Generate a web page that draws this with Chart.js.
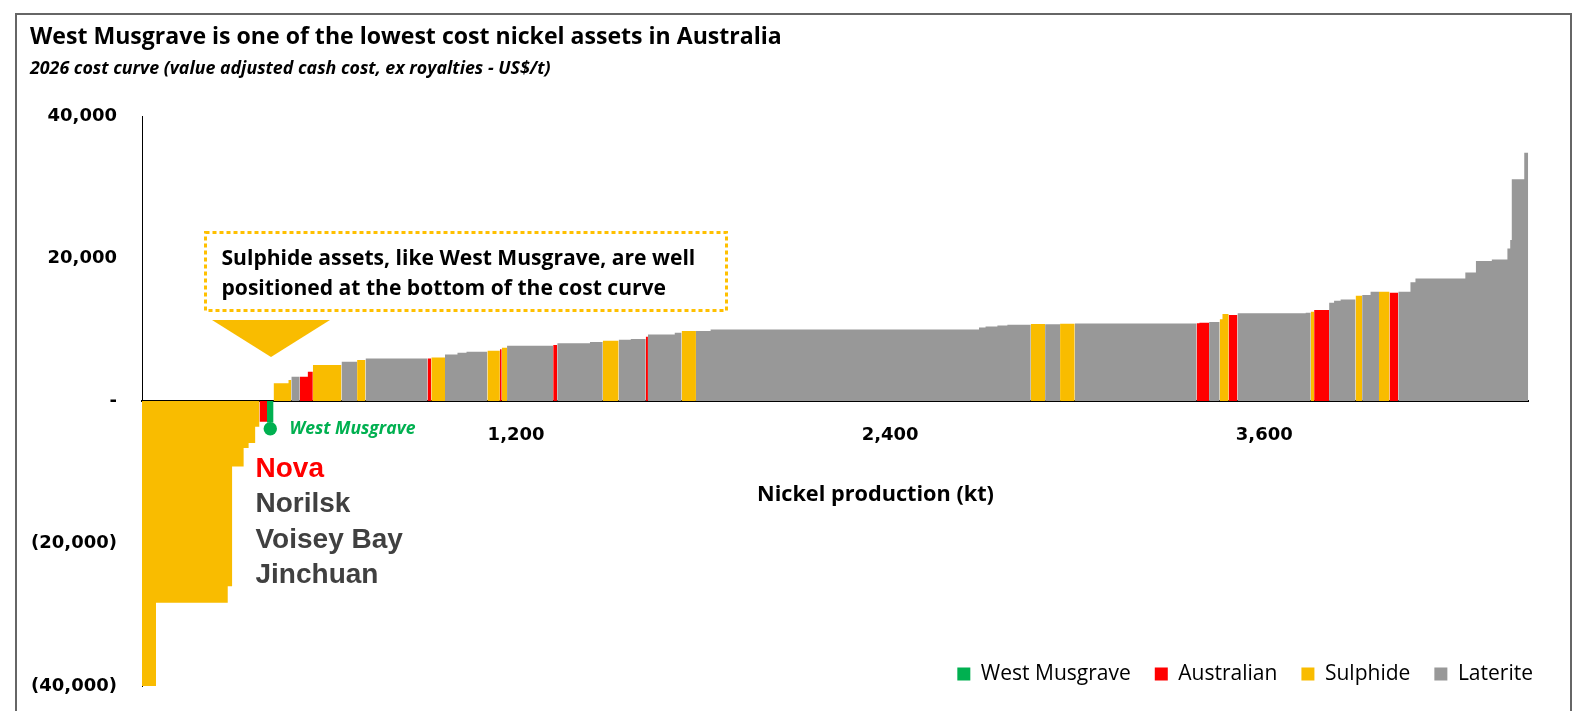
<!DOCTYPE html>
<html>
<head>
<meta charset="utf-8">
<script src="https://cdn.jsdelivr.net/npm/chart.js@4.4.0/dist/chart.umd.min.js"></script>
<style>
  html, body { margin: 0; padding: 0; background: #fff; }
  #wrap { width: 1583px; height: 711px; }
</style>
</head>
<body>
<div id="wrap"><canvas id="curve"></canvas></div>
<script>
// assets in cost order: production (kt), cash cost (US$/t), type
var production = [45, 230, 14, 37, 16, 21, 14, 24, 21, 48, 9, 27, 26, 16, 92, 50, 27, 199, 12, 44,
  40, 29, 67, 40, 6, 17, 148, 13, 105, 41, 51, 39, 48, 7, 86, 22, 46, 47, 861, 21,
  38, 32, 75, 46, 48, 47, 391, 9, 31, 34, 9, 20, 28, 219, 16, 11, 48, 16, 21, 48,
  21, 27, 27, 34, 28, 39, 16, 160, 34, 51, 50, 9, 5, 40, 13];
var cashCost = [-40000, -28300, -26000, -9200, -6600, -5900, -3600, -2900, -3000, 2480,
  2950, 3410, 3410, 4110, 5050, 5510, 5750, 5980, 5980, 6100,
  6540, 6780, 6920, 7060, 7250, 7480, 7760, 7850, 8090, 8270,
  8460, 8600, 8700, 9020, 9350, 9580, 9820, 9820, 10050, 10330,
  10470, 10600, 10700, 10800, 10780, 10850, 10890, 10900, 10990, 11080,
  11460, 12200, 12060, 12300, 12400, 12530, 12760, 13790, 14070, 14260,
  14770, 14870, 15330, 15330, 15190, 15330, 16650, 17210, 18050, 19640,
  19870, 21410, 22580, 31130, 34830];
// W = West Musgrave, A = Australian, S = sulphide, L = laterite
var assetType = ['S', 'S', 'S', 'S', 'S', 'S', 'S', 'A', 'W', 'S',
  'S', 'L', 'A', 'A', 'S', 'L', 'S', 'L', 'A', 'S',
  'L', 'L', 'L', 'S', 'A', 'S', 'L', 'A', 'L', 'L',
  'S', 'L', 'L', 'A', 'L', 'L', 'S', 'L', 'L', 'L',
  'L', 'L', 'L', 'S', 'L', 'S', 'L', 'A', 'A', 'L',
  'S', 'S', 'A', 'L', 'L', 'S', 'A', 'L', 'L', 'L',
  'S', 'L', 'L', 'S', 'A', 'L', 'L', 'L', 'L', 'L',
  'L', 'L', 'L', 'L', 'L'];
var xTicks = [1200, 2400, 3600];
var yTicks = [-40000, -20000, 0, 20000, 40000];
var wmMarker = -3900;
var peerLabels = ['Nova', 'Norilsk', 'Voisey Bay', 'Jinchuan'];

var typeNames = { W: 'West Musgrave', A: 'Australian', S: 'Sulphide', L: 'Laterite' };
var typeColours = { W: '#00B050', A: '#FF0000', S: '#F9BC00', L: '#989898' };
var legendOrder = ['W', 'A', 'S', 'L'];

var titleText = 'West Musgrave is one of the lowest cost nickel assets in Australia';
var subtitleText = '2026 cost curve (value adjusted cash cost, ex royalties - US$/t)';
var noteLines = ['Sulphide assets, like West Musgrave, are well', 'positioned at the bottom of the cost curve'];

// step the curve: each asset is a flat run as wide as its production
var points = [];
var edge = 0;
var wmX = 0;
production.forEach(function(w, i) {
    points.push({ x: edge, y: cashCost[i] });
    if (assetType[i] === 'W') wmX = edge + w / 2;
    edge += w;
    points.push({ x: edge, y: cashCost[i] });
});

var meas = document.createElement('canvas').getContext('2d');
function fitSize(text, style, family, width) {
    meas.font = style + ' 100px ' + family;
    return 100 * width / meas.measureText(text).width;
}
var sans = "'Open Sans'";
var titleSize = fitSize(titleText, 'bold', sans, 752);
var subSize = fitSize(subtitleText, 'italic bold', sans, 521);
var legendSize = fitSize('West Musgrave', 'normal', sans, 150);
var noteSize = fitSize(noteLines[0], 'bold', sans, 474);
var axisTitleSize = fitSize('Nickel production (kt)', 'bold', sans, 237);
var wmSize = fitSize('West Musgrave', 'italic bold', sans, 126);

var titlePad = { top: 37 - 0.6 * titleSize, bottom: 0 };
var subPad = { top: 68.5 - 0.6 * subSize - (titlePad.top + 1.2 * titleSize), bottom: 20 };
var pad = { top: 0, left: 30, right: 55, bottom: 0 };
var legendPad = 24;
var legendBox = 13;

var notes = {
    id: 'notes',
    beforeDraw: function(chart) {
        var c = chart.ctx;
        c.save();
        c.fillStyle = '#fff';
        c.fillRect(0, 0, chart.width, chart.height);
        c.strokeStyle = '#666';
        c.lineWidth = 2;
        c.strokeRect(16, 14, 1555, 720);
        c.restore();
    },
    afterDraw: function(chart) {
        var c = chart.ctx;
        c.save();
        c.strokeStyle = '#FFC000';
        c.lineWidth = 3;
        c.setLineDash([4, 3]);
        c.strokeRect(205.5, 232.5, 521, 78);
        c.setLineDash([]);
        c.fillStyle = typeColours.S;
        c.beginPath();
        c.moveTo(212, 320);
        c.lineTo(330, 320);
        c.lineTo(271, 357);
        c.closePath();
        c.fill();

        c.textAlign = 'left';
        c.textBaseline = 'middle';
        c.fillStyle = '#000';
        c.font = 'bold ' + noteSize + 'px ' + sans;
        c.fillText(noteLines[0], 221.5, 259);
        c.fillText(noteLines[1], 221.5, 289);
        c.font = 'bold ' + axisTitleSize + 'px ' + sans;
        c.fillText('Nickel production (kt)', 757, 495);
        c.fillStyle = typeColours.W;
        c.font = 'italic bold ' + wmSize + 'px ' + sans;
        c.fillText('West Musgrave', 289.5, 429);

        c.textBaseline = 'alphabetic';
        c.font = "bold 28px 'Liberation Sans'";
        peerLabels.forEach(function(name, i) {
            c.fillStyle = i === 0 ? '#FF0000' : '#404040';
            c.fillText(name, 255.5, 477 + i * 35.3);
        });
        c.restore();
    }
};

// legend sits inside the plot, bottom right
var legendMover = {
    id: 'legendMover',
    afterLayout: function(chart) {
        var lg = chart.legend;
        var itemH = Math.max(legendSize, legendBox);
        var top = 674 - legendPad - itemH / 2;
        lg.top = top;
        lg.bottom = top + lg.height;
        // a little slack so the last item does not wrap on rounding
        lg.lineWidths = lg.lineWidths.map(function(w) { return w + 1; });
        var right = 1533 + legendPad + 1;
        lg.left += right - lg.right;
        lg.right = right;
    }
};

var tickFont = { family: "'DejaVu Sans'", weight: 'bold', size: 18 };

var chart = new Chart(document.getElementById('curve'), {
    type: 'line',
    data: {
        datasets: [{
            label: 'Cost curve',
            data: points,
            borderWidth: 0,
            borderColor: 'transparent',
            pointRadius: 0,
            tension: 0,
            fill: 'origin',
            backgroundColor: typeColours.L,
            segment: {
                backgroundColor: function(ctx) {
                    return typeColours[assetType[Math.floor(ctx.p0DataIndex / 2)]];
                }
            },
            order: 2
        }, {
            type: 'scatter',
            label: 'West Musgrave',
            data: [{ x: wmX, y: wmMarker }],
            pointRadius: 6.7,
            backgroundColor: typeColours.W,
            borderWidth: 0,
            order: 1
        }]
    },
    options: {
        responsive: true,
        maintainAspectRatio: false,
        animation: false,
        events: [],
        layout: { padding: pad },
        scales: {
            x: {
                type: 'linear',
                min: 0,
                max: edge,
                position: { y: 0 },
                grid: { display: false, drawTicks: false },
                border: { display: true, color: '#000', width: 2 },
                afterBuildTicks: function(s) {
                    s.ticks = xTicks.map(function(v) { return { value: v }; });
                },
                afterFit: function(s) {
                    s.height = 0;
                    s.paddingLeft = 0;
                    s.paddingRight = 0;
                },
                ticks: {
                    padding: 24,
                    color: '#000',
                    font: tickFont,
                    maxRotation: 0,
                    autoSkip: false,
                    callback: function(v) { return v.toLocaleString('en-US'); }
                }
            },
            y: {
                min: yTicks[0],
                max: yTicks[yTicks.length - 1],
                grid: { display: false, drawTicks: false },
                border: { display: true, color: '#000', width: 1 },
                afterFit: function(s) {
                    s.width = 112;
                    s.paddingTop = 0;
                    s.paddingBottom = 0;
                },
                ticks: {
                    stepSize: yTicks[1] - yTicks[0],
                    padding: 25,
                    color: '#000',
                    font: tickFont,
                    callback: function(v) {
                        if (v === 0) return '-';
                        if (v < 0) return '(' + (-v).toLocaleString('en-US') + ')';
                        return v.toLocaleString('en-US');
                    }
                }
            }
        },
        plugins: {
            title: {
                display: true,
                text: titleText,
                align: 'start',
                color: '#000',
                font: { family: sans, weight: 'bold', size: titleSize },
                padding: titlePad
            },
            subtitle: {
                display: true,
                text: subtitleText,
                align: 'start',
                color: '#000',
                font: { family: sans, weight: 'bold', style: 'italic', size: subSize },
                padding: subPad
            },
            legend: {
                display: true,
                position: 'bottom',
                align: 'end',
                onClick: null,
                labels: {
                    boxWidth: legendBox,
                    boxHeight: legendBox,
                    padding: legendPad,
                    color: '#000',
                    font: { family: sans, size: legendSize },
                    generateLabels: function() {
                        return legendOrder.map(function(k) {
                            return { text: typeNames[k], fillStyle: typeColours[k], strokeStyle: typeColours[k], lineWidth: 0, hidden: false };
                        });
                    }
                }
            },
            tooltip: { enabled: false }
        }
    },
    plugins: [notes, legendMover]
});

// pin the plot area to the reference frame
for (var k = 0; k < 3; k++) {
    var a = chart.chartArea;
    pad.bottom += a.bottom - 686;
    pad.right += a.right - 1528.3;
    subPad.bottom += 116 - a.top;
    chart.update();
}
</script>
</body>
</html>
